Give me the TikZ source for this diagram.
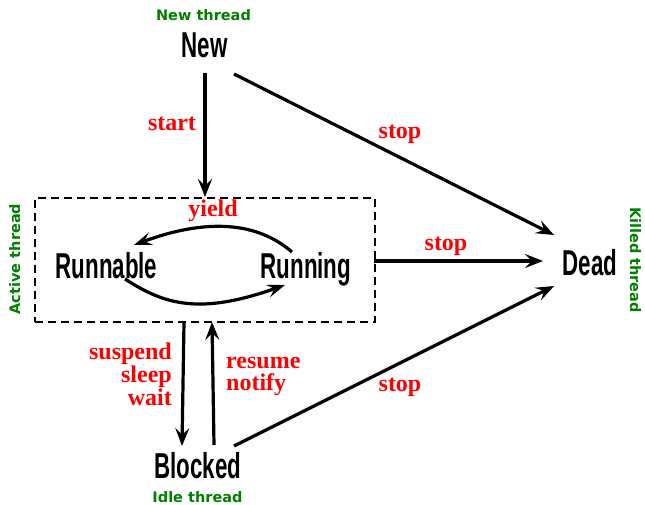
\documentclass[tikz,border=0pt]{standalone}
\usepackage{fontspec}
\usetikzlibrary{arrows.meta}
\newfontfamily\statefont{Liberation Sans}[FakeStretch=0.62]
\newfontfamily\notefont{DejaVu Sans}
\newfontfamily\labelfont{Liberation Serif}
\definecolor{notegreen}{RGB}{0,128,0}
\definecolor{labelred}{RGB}{255,0,0}
\begin{document}
\begin{tikzpicture}[x=1pt,y=-1pt,
  state/.style={font=\statefont\bfseries\fontsize{36}{36}\selectfont, inner sep=0pt, anchor=base},
  note/.style={font=\notefont\bfseries\fontsize{14.5}{15}\selectfont, text=notegreen, inner sep=0pt, anchor=base},
  trans/.style={font=\labelfont\bfseries\fontsize{24}{23}\selectfont, text=labelred, inner sep=0pt, anchor=base},
  arr/.style={line width=3.2pt, -{Stealth[length=18pt,width=14pt,inset=7pt]}},
  curvearr/.style={line width=3.2pt, -{Stealth[length=18pt,width=13pt,inset=7pt]}},
  group/.style={draw, line width=2pt, dash pattern=on 8pt off 5pt},
]
\useasboundingbox (0,0) rectangle (645,505);

% thread states
\node[state] (new)      at (204.5,58)  {New};
\node[state] (runnable) at (106.5,278) {Runnable};
\node[state] (running)  at (306,278)   {Running};
\node[state] (dead)     at (590,275)   {Dead};
\node[state] (blocked)  at (198,478)   {Blocked};

% active group around runnable/running
\node[group, minimum width=340pt, minimum height=124pt] (active) at (205,260) {};

% state descriptions
\node[note] (newnote)     at (203.5,20.5) {New thread};
\node[note] (idlenote)    at (197.5,502)  {Idle thread};
\node[note, rotate=90]  (activenote) at (20,259)  {Active thread};
\node[note, rotate=-90] (killednote) at (630,260) {Killed thread};

% connector end points
\coordinate (newS)     at (205,73);
\coordinate (newE)     at (234,74);
\coordinate (deadNW)   at (554,235);
\coordinate (deadW)    at (543,261);
\coordinate (deadSW)   at (554,286);
\coordinate (activeE)  at (374,261);
\coordinate (runA)     at (292,252);
\coordinate (runB)     at (285,285);
\coordinate (rblA)     at (134,245);
\coordinate (rblB)     at (125,279);
\coordinate (downTop)  at (184,322);
\coordinate (downTip)  at (182,446);
\coordinate (upBot)    at (214,445);
\coordinate (upTip)    at (212,322);
\coordinate (blockedE) at (234,446);

% transitions
\draw[arr] (newS) -- (active.north);
\draw[arr] (newE) -- (deadNW);
\draw[arr] (activeE) -- (deadW);
\draw[arr] (blockedE) -- (deadSW);
\draw[curvearr] (runA) .. controls (262,226) and (215,215) .. (rblA);
\draw[curvearr] (rblB) .. controls (165,305) and (200,315) .. (runB);
\draw[arr] (downTop) -- (downTip);
\draw[arr] (upBot) -- (upTip);

% transition labels
\node[trans] (lstart) at (172,131) {start};
\node[trans] (lstop1) at (400,139) {stop};
\node[trans] (lstop2) at (446,250) {stop};
\node[trans] (lstop3) at (400,391) {stop};
\node[trans] (lyield) at (213,216) {yield};
\node[trans, anchor=north east, align=right] (lsuspend) at (172,343) {suspend\\sleep\\wait};
\node[trans, anchor=north west, align=left,
      font=\labelfont\bfseries\fontsize{24}{22}\selectfont] (lresume) at (226,357) {resume\\notify};
\end{tikzpicture}
\end{document}
